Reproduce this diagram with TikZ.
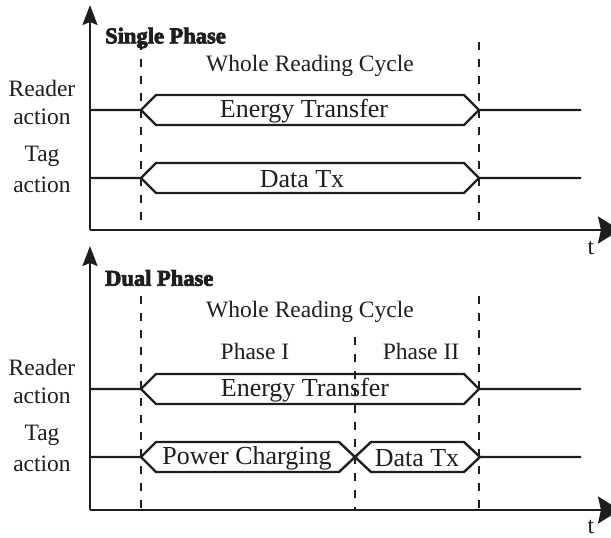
\documentclass[tikz,border=0pt]{standalone}
\usepackage{fontspec}
\setmainfont{Liberation Serif}
\newfontfamily\heavyfont{Liberation Serif}[FakeBold=3.5]
\usetikzlibrary{arrows.meta}
\definecolor{ink}{HTML}{1E1E1E}
\tikzset{
  sig/.style={draw=ink, line width=2.4pt, line join=miter},
  axisv/.style={draw=ink, line width=2.4pt, -{Stealth[length=20pt,width=15pt,inset=3pt]}},
  axish/.style={draw=ink, line width=2.4pt, -{Stealth[length=22pt,width=27pt,inset=3pt]}},
  guide/.style={draw=ink, line width=1.2pt, dash pattern=on 8pt off 9pt},
  boxlbl/.style={inner sep=0pt, text=ink, font=\fontsize{26}{28}\selectfont},
  lbl/.style={inner sep=0pt, text=ink, font=\fontsize{23.5}{26}\selectfont},
  ttl/.style={inner sep=0pt, anchor=west, text=ink, font=\heavyfont\bfseries\fontsize{22.5}{24}\selectfont},
}
\begin{document}
\begin{tikzpicture}[x=1pt,y=-1pt]
\useasboundingbox (0,0) rectangle (611,538);

%%%%%%%% Single phase panel
\coordinate (o1) at (90,230);
\coordinate (ytop1) at (90,5);
\coordinate (xend1) at (620,230);
\draw[axisv] (o1) -- (ytop1);
\draw[axish] (o1) -- (xend1);
\node[lbl] (t1) at (591,248) {t};
\node[ttl] (sp) at (105,38) {Single Phase};
\node[lbl] (wrc1) at (310,66) {Whole Reading Cycle};

% guides
\coordinate (g1a) at (141,42); \coordinate (g1b) at (141,230);
\coordinate (g2a) at (479,42); \coordinate (g2b) at (479,230);
\draw[guide] (g1a) -- (g1b);
\draw[guide] (g2a) -- (g2b);

% labels
\node[lbl] (r1a) at (42,88) {Reader};
\node[lbl] (r1b) at (42,117) {action};
\node[lbl] (ta1a) at (42,156) {Tag};
\node[lbl] (ta1b) at (42,185) {action};

% reader row
\coordinate (r1s) at (90,110);
\coordinate (r1e) at (581,110);
\draw[sig] (r1s) -- (141,110) -- (156,95) -- (464,95) -- (479,110) -- (r1e);
\draw[sig] (141,110) -- (156,125) -- (464,125) -- (479,110);
\node[boxlbl] (et1) at (304,111) {Energy Transfer};

% tag row
\coordinate (t1s) at (90,178);
\coordinate (t1e) at (581,178);
\draw[sig] (t1s) -- (141,178) -- (156,163) -- (464,163) -- (479,178) -- (t1e);
\draw[sig] (141,178) -- (156,193) -- (464,193) -- (479,178);
\node[boxlbl] (dt1) at (302,179) {Data Tx};

%%%%%%%% Dual phase panel
\coordinate (o2) at (90,510);
\coordinate (ytop2) at (90,246);
\coordinate (xend2) at (620,510);
\draw[axisv] (o2) -- (ytop2);
\draw[axish] (o2) -- (xend2);
\node[lbl] (t2) at (591,527) {t};
\node[ttl] (dp) at (105,278) {Dual Phase};
\node[lbl] (wrc2) at (310,312) {Whole Reading Cycle};
\node[lbl] (ph1) at (255,351) {Phase I};
\node[lbl] (ph2) at (421,351) {Phase II};

% guides
\coordinate (h1a) at (141,296); \coordinate (h1b) at (141,510);
\coordinate (h2a) at (479,296); \coordinate (h2b) at (479,510);
\coordinate (h3a) at (355,337); \coordinate (h3b) at (355,510);
\draw[guide] (h1a) -- (h1b);
\draw[guide] (h2a) -- (h2b);
\draw[guide] (h3a) -- (h3b);

% labels
\node[lbl] (r2a) at (42,367) {Reader};
\node[lbl] (r2b) at (42,396) {action};
\node[lbl] (ta2a) at (42,435) {Tag};
\node[lbl] (ta2b) at (42,464) {action};

% reader row
\coordinate (r2s) at (90,389);
\coordinate (r2e) at (581,389);
\draw[sig] (r2s) -- (141,389) -- (156,374) -- (464,374) -- (479,389) -- (r2e);
\draw[sig] (141,389) -- (156,404) -- (464,404) -- (479,389);
\node[boxlbl] (et2) at (305,390) {Energy Transfer};

% tag row
\coordinate (t2s) at (90,457);
\coordinate (t2e) at (581,457);
\draw[sig] (t2s) -- (141,457) -- (156,442) -- (339,442) -- (355,457) -- (371,442) -- (464,442) -- (480,457) -- (t2e);
\draw[sig] (141,457) -- (156,472) -- (339,472) -- (355,457) -- (371,472) -- (464,472) -- (480,457);
\node[boxlbl] (pc) at (247,458) {Power Charging};
\node[boxlbl] (dt2) at (417,458) {Data Tx};
\end{tikzpicture}
\end{document}
